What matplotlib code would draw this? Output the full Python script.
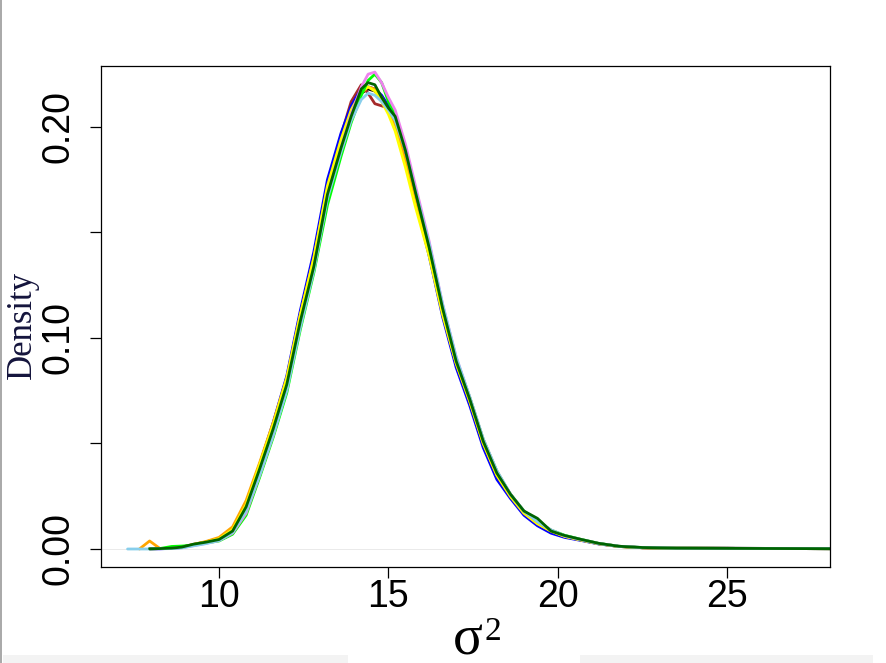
import numpy as np
import matplotlib
matplotlib.use("Agg")
import matplotlib.pyplot as plt
from matplotlib.patches import Rectangle
from matplotlib.lines import Line2D

nan = np.nan

# shared evaluation grid for the density curves (sigma^2)
grid = [7.3, 7.65, 7.95, 8.25, 8.6, 8.9, 9.25, 9.6, 10.0, 10.4, 10.8, 11.2, 11.6,
        12.0, 12.4, 12.8, 13.2, 13.6, 13.9, 14.2, 14.4, 14.6, 14.8, 15.0, 15.2,
        15.5, 15.8, 16.2, 16.6, 17.0, 17.4, 17.8, 18.2, 18.6, 19.0, 19.4, 19.8,
        20.2, 20.7, 21.2, 21.8, 22.5, 23.5, 25.0, 27.0, 29.0]

dens_black = [nan, nan, 0.0001, 0.0002, 0.0004, 0.0008, 0.0020, 0.0030, 0.0045, 0.0090,
              0.021, 0.039, 0.058, 0.080, 0.110, 0.137, 0.170, 0.192, 0.207, 0.216, 0.218,
              0.217, 0.213, 0.209, 0.203, 0.186, 0.166, 0.141, 0.113, 0.089, 0.070, 0.050,
              0.035, 0.025, 0.017, 0.012, 0.0085, 0.0060, 0.0042, 0.0025, 0.0012, 0.0006,
              0.0004, 0.0004, 0.0002, 0.0001]
dens_darkred = [nan, nan, 0.0001, 0.0002, 0.0004, 0.0009, 0.0022, 0.0033, 0.0050, 0.0095,
                0.022, 0.040, 0.059, 0.081, 0.110, 0.136, 0.172, 0.196, 0.212, 0.220, 0.216,
                0.211, 0.210, 0.209, 0.203, 0.188, 0.168, 0.141, 0.112, 0.088, 0.070, 0.050,
                0.036, 0.026, 0.017, 0.012, 0.0085, 0.0062, 0.0043, 0.0026, 0.0013, 0.0006,
                0.0004, 0.0003, 0.0002, 0.0001]
dens_blue = [nan, nan, 0.0001, 0.0001, 0.0003, 0.0007, 0.0019, 0.0030, 0.0045, 0.0090,
             0.021, 0.040, 0.060, 0.082, 0.113, 0.141, 0.175, 0.197, 0.210, 0.218, 0.219,
             0.218, 0.215, 0.210, 0.204, 0.186, 0.165, 0.139, 0.110, 0.086, 0.068, 0.048,
             0.033, 0.024, 0.016, 0.011, 0.0075, 0.0055, 0.0040, 0.0024, 0.0012, 0.0006,
             0.0004, 0.0003, 0.0002, 0.0001]
dens_orange = [nan, 0.0000, 0.0038, 0.0003, 0.0003, 0.0008, 0.0022, 0.0035, 0.0055, 0.0105,
               0.023, 0.041, 0.060, 0.081, 0.111, 0.138, 0.171, 0.193, 0.207, 0.216, 0.219,
               0.218, 0.214, 0.208, 0.201, 0.184, 0.164, 0.140, 0.112, 0.088, 0.070, 0.050,
               0.035, 0.025, 0.017, 0.012, 0.0085, 0.0060, 0.0042, 0.0025, 0.0012, 0.0006,
               0.0004, 0.0003, 0.0002, 0.0001]
dens_yellow = [nan, nan, 0.0001, 0.0002, 0.0004, 0.0008, 0.0021, 0.0032, 0.0048, 0.0092,
               0.021, 0.040, 0.059, 0.081, 0.111, 0.138, 0.172, 0.194, 0.208, 0.217, 0.219,
               0.217, 0.212, 0.206, 0.198, 0.181, 0.162, 0.139, 0.111, 0.088, 0.070, 0.050,
               0.035, 0.025, 0.017, 0.012, 0.0085, 0.0060, 0.0042, 0.0025, 0.0012, 0.0006,
               0.0004, 0.0003, 0.0002, 0.0001]
dens_lime = [nan, nan, 0.0001, 0.0002, 0.0012, 0.0014, 0.0018, 0.0028, 0.0038, 0.0070,
             0.016, 0.034, 0.053, 0.074, 0.104, 0.131, 0.163, 0.186, 0.202, 0.215, 0.222,
             0.225, 0.221, 0.212, 0.206, 0.190, 0.170, 0.144, 0.115, 0.090, 0.072, 0.052,
             0.037, 0.026, 0.018, 0.013, 0.0090, 0.0065, 0.0045, 0.0027, 0.0013, 0.0007,
             0.0004, 0.0003, 0.0002, 0.0001]
dens_violet = [nan, nan, 0.0001, 0.0001, 0.0003, 0.0006, 0.0016, 0.0026, 0.0040, 0.0075,
               0.017, 0.035, 0.054, 0.076, 0.106, 0.133, 0.167, 0.190, 0.206, 0.219, 0.225,
               0.226, 0.221, 0.214, 0.208, 0.192, 0.172, 0.146, 0.116, 0.091, 0.072, 0.052,
               0.037, 0.026, 0.018, 0.013, 0.0090, 0.0062, 0.0044, 0.0026, 0.0013, 0.0007,
               0.0004, 0.0003, 0.0002, 0.0001]
dens_skyblue = [0.0000, 0.0000, 0.0000, 0.0001, 0.0002, 0.0005, 0.0015, 0.0025, 0.0040, 0.0078,
                0.018, 0.035, 0.054, 0.075, 0.105, 0.132, 0.166, 0.188, 0.203, 0.213, 0.216,
                0.215, 0.212, 0.208, 0.203, 0.189, 0.170, 0.145, 0.116, 0.091, 0.072, 0.052,
                0.037, 0.026, 0.018, 0.013, 0.0090, 0.0063, 0.0044, 0.0026, 0.0013, 0.0007,
                0.0004, 0.0003, 0.0002, 0.0001]
dens_darkgreen = [nan, nan, 0.0001, 0.0002, 0.0004, 0.0009, 0.0023, 0.0032, 0.0045, 0.0085,
                  0.020, 0.038, 0.057, 0.078, 0.108, 0.134, 0.168, 0.190, 0.205, 0.218, 0.221,
                  0.220, 0.214, 0.209, 0.205, 0.189, 0.169, 0.143, 0.114, 0.089, 0.071, 0.051,
                  0.036, 0.026, 0.018, 0.0145, 0.0085, 0.0064, 0.0045, 0.0027, 0.0013, 0.0007,
                  0.0004, 0.0003, 0.0002, 0.0001]

x_ticks = [10, 15, 20, 25]
y_ticks = [0.00, 0.05, 0.10, 0.15, 0.20]
y_ticklabels = ["0.00", "", "0.10", "", "0.20"]

# drawing order, last one ends up on top
curves = [
    (dens_black, "black"),
    (dens_darkred, "#a52a2a"),
    (dens_blue, "#0000ff"),
    (dens_orange, "#ffa500"),
    (dens_yellow, "#ffff00"),
    (dens_lime, "#00ff00"),
    (dens_violet, "#ee82ee"),
    (dens_skyblue, "#87ceeb"),
    (dens_darkgreen, "#006400"),
]

fig = plt.figure(figsize=(8.86, 6.63), dpi=100)
ax = fig.add_axes([0.114, 0.1448, 0.823, 0.7557])

# R draws a faint zero line under density plots
ax.axhline(0, color="#e6e6e6", lw=0.6, zorder=1)

for vals, col in curves:
    ax.plot(grid, vals, color=col, lw=2.0, solid_joinstyle="round",
            solid_capstyle="round", zorder=2)

ax.set_xlim(6.516, 28.04)
ax.set_ylim(-0.00853, 0.2289)

ax.set_xticks(x_ticks)
ax.set_xticklabels([str(t) for t in x_ticks], fontsize=27, family="Liberation Sans")
ax.set_yticks(y_ticks)
ax.set_yticklabels(y_ticklabels, fontsize=27, family="Liberation Sans",
                   rotation=90, va="center")
ax.tick_params(axis="x", length=8, width=0.9, pad=1)
ax.tick_params(axis="y", length=8, width=0.9, pad=10)

for sp in ax.spines.values():
    sp.set_linewidth(0.9)

# x label: upright serif sigma with a raised 2
ax.text(0.503, -0.174, "σ", transform=ax.transAxes, ha="center", va="baseline",
        fontsize=40, family="Liberation Serif")
ax.text(0.526, -0.146, "2", transform=ax.transAxes, ha="left", va="baseline",
        fontsize=24, family="Liberation Serif")

ax.text(-0.108, 0.483, "Density", transform=ax.transAxes, rotation=90,
        ha="center", va="center", fontsize=25, family="Liberation Serif",
        color="#14143c")

# leftover page edges around the screenshot
fig.add_artist(Line2D([0.001, 0.001], [0, 1], transform=fig.transFigure,
                      color="#9a9a9a", lw=1.2))
fig.add_artist(Rectangle((0.003, 0.0), 0.39, 0.012, transform=fig.transFigure,
                         color="#f3f3f3", lw=0))
fig.add_artist(Rectangle((0.655, 0.0), 0.33, 0.012, transform=fig.transFigure,
                         color="#f3f3f3", lw=0))

fig.savefig("out.png", dpi=100)
